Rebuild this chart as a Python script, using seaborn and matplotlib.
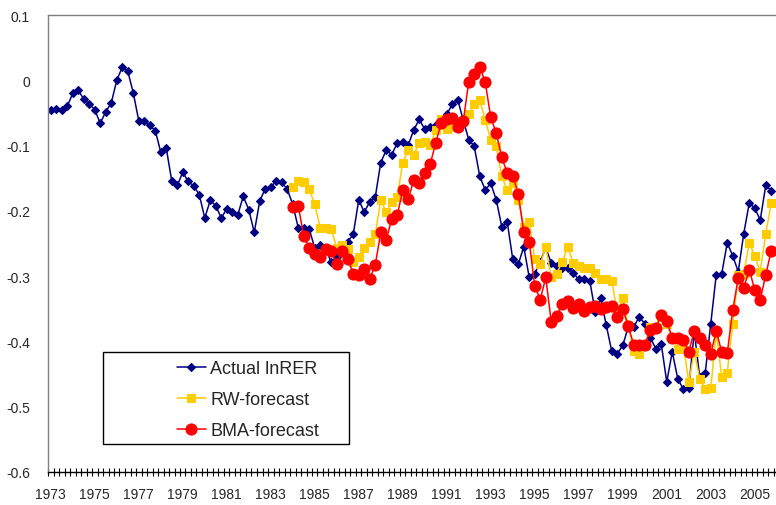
import matplotlib
matplotlib.use("Agg")
import matplotlib.pyplot as plt
from matplotlib.patches import Rectangle
import seaborn as sns
import numpy as np
import pandas as pd

# quarterly categories 1973Q1 ...
years = list(range(1973, 2006, 2))          # tick labels every 8 quarters
n_quarters = 132
forecast_start = 44                          # 1984Q1

actual = [
    -0.045, -0.044, -0.045, -0.040, -0.020, -0.015, -0.029, -0.036,
    -0.045, -0.066, -0.048, -0.035, 0.000, 0.020, 0.014, -0.019,
    -0.062, -0.063, -0.069, -0.077, -0.110, -0.104, -0.154, -0.161,
    -0.141, -0.155, -0.162, -0.175, -0.211, -0.184, -0.192, -0.211,
    -0.197, -0.202, -0.206, -0.178, -0.198, -0.233, -0.185, -0.166,
    -0.163, -0.155, -0.156, -0.167, -0.190, -0.226, -0.226, -0.228,
    -0.257, -0.252, -0.258, -0.279, -0.270, -0.257, -0.247, -0.236,
    -0.183, -0.202, -0.186, -0.179, -0.126, -0.107, -0.114, -0.096,
    -0.095, -0.099, -0.076, -0.060, -0.075, -0.072, -0.068, -0.062,
    -0.052, -0.037, -0.030, -0.061, -0.091, -0.101, -0.147, -0.168,
    -0.158, -0.183, -0.224, -0.217, -0.274, -0.282, -0.255, -0.302,
    -0.296, -0.278, -0.256, -0.280, -0.284, -0.288, -0.288, -0.295,
    -0.305, -0.305, -0.307, -0.355, -0.334, -0.375, -0.415, -0.419,
    -0.406, -0.378, -0.378, -0.362, -0.373, -0.394, -0.411, -0.404,
    -0.462, -0.416, -0.457, -0.473, -0.472, -0.385, -0.455, -0.448,
    -0.373, -0.298, -0.296, -0.249, -0.269, -0.293, -0.235, -0.188,
    -0.196, -0.214, -0.161, -0.169,
]

rw_forecast = [
    -0.163, -0.155, -0.156, -0.167, -0.190, -0.226, -0.226, -0.228,
    -0.257, -0.252, -0.258, -0.279, -0.270, -0.257, -0.247, -0.236,
    -0.183, -0.202, -0.186, -0.179, -0.126, -0.107, -0.114, -0.096,
    -0.095, -0.099, -0.076, -0.060, -0.075, -0.072, -0.068, -0.062,
    -0.052, -0.037, -0.030, -0.061, -0.091, -0.101, -0.147, -0.168,
    -0.158, -0.183, -0.224, -0.217, -0.274, -0.282, -0.255, -0.302,
    -0.296, -0.278, -0.256, -0.280, -0.284, -0.288, -0.288, -0.295,
    -0.305, -0.305, -0.307, -0.355, -0.334, -0.375, -0.415, -0.419,
    -0.406, -0.378, -0.378, -0.362, -0.373, -0.394, -0.411, -0.404,
    -0.462, -0.416, -0.457, -0.473, -0.472, -0.385, -0.455, -0.448,
    -0.373, -0.298, -0.296, -0.249, -0.269, -0.293, -0.235, -0.188,
]

bma_forecast = [
    -0.194, -0.192, -0.239, -0.257, -0.266, -0.271, -0.259, -0.262,
    -0.282, -0.262, -0.273, -0.296, -0.298, -0.289, -0.304, -0.283,
    -0.233, -0.245, -0.212, -0.207, -0.168, -0.182, -0.153, -0.158,
    -0.142, -0.128, -0.096, -0.065, -0.059, -0.058, -0.072, -0.063,
    -0.002, 0.009, 0.021, -0.003, -0.057, -0.081, -0.118, -0.142,
    -0.146, -0.174, -0.232, -0.247, -0.315, -0.336, -0.302, -0.370,
    -0.361, -0.343, -0.338, -0.349, -0.343, -0.353, -0.348, -0.346,
    -0.351, -0.347, -0.346, -0.363, -0.350, -0.377, -0.405, -0.405,
    -0.406, -0.383, -0.379, -0.360, -0.368, -0.395, -0.395, -0.398,
    -0.416, -0.384, -0.395, -0.406, -0.419, -0.384, -0.416, -0.418,
    -0.352, -0.303, -0.318, -0.290, -0.321, -0.336, -0.298, -0.261,
]

series_names = ["Actual lnRER", "RW-forecast", "BMA-forecast"]
colors = ["#000080", "#FFCC00", "#FF0000"]

sns.set_theme(style="white")
plt.rcParams["font.family"] = ["Liberation Sans", "DejaVu Sans"]

df_act = pd.DataFrame({"q": np.arange(len(actual)), "v": actual})
df_rw = pd.DataFrame({"q": np.arange(forecast_start, forecast_start + len(rw_forecast)), "v": rw_forecast})
df_bma = pd.DataFrame({"q": np.arange(forecast_start, forecast_start + len(bma_forecast)), "v": bma_forecast})

W, H = 776, 506
fig = plt.figure(figsize=(W / 100, H / 100), dpi=100)
ax = fig.add_axes([48 / W, 1 - 473 / H, 1 - 48 / W, (473 - 16) / H])

sns.lineplot(data=df_act, x="q", y="v", ax=ax, color=colors[0], marker="D",
             markersize=4.0, markeredgecolor=colors[0], markeredgewidth=0.8,
             linewidth=1.1, label=series_names[0], zorder=2)
sns.lineplot(data=df_rw, x="q", y="v", ax=ax, color=colors[1], marker="s",
             markersize=5.5, markeredgecolor=colors[1], linewidth=1.1,
             label=series_names[1], zorder=3)
sns.lineplot(data=df_bma, x="q", y="v", ax=ax, color=colors[2], marker="o",
             markersize=8, markeredgecolor=colors[2], linewidth=1.1,
             label=series_names[2], zorder=4)

ax.set_xlim(-0.5, (W - 48) / 5.5 - 0.5)
ax.set_ylim(-0.6, 0.1)
ax.set_xlabel("")
ax.set_ylabel("")

# y axis
yt = np.round(np.arange(-0.6, 0.101, 0.1), 1)
ax.set_yticks(yt)
ax.set_yticklabels(["0" if v == 0 else f"{v:.1f}" for v in yt], fontsize=10)
ax.tick_params(axis="y", length=0, pad=13)

# x axis: labels every 8 quarters, cross ticks at category boundaries
ax.set_xticks([8 * k for k in range(len(years))])
ax.set_xticklabels([str(y) for y in years], fontsize=10)
ax.set_xticks(np.arange(-0.5, n_quarters + 0.5, 1), minor=True)
ax.tick_params(axis="x", which="major", length=0, pad=11)
ax.tick_params(axis="x", which="minor", bottom=True, length=6,
               direction="inout", width=0.8, color="black")

for s in ["top", "left"]:
    ax.spines[s].set_color("#808080")
    ax.spines[s].set_linewidth(1.0)
ax.spines["right"].set_visible(False)
ax.spines["bottom"].set_color("black")
ax.spines["bottom"].set_linewidth(1.0)
ax.grid(False)

# legend
handles, labels = ax.get_legend_handles_labels()
ax.legend_.remove()
fig.patches.append(Rectangle((103 / W, 1 - 445 / H), (349 - 103) / W, (445 - 353) / H,
                             transform=fig.transFigure, fill=True, facecolor="white",
                             edgecolor="black", linewidth=1.0, zorder=5))
leg = fig.legend(handles, labels, loc="upper left",
                 bbox_to_anchor=(177 / W, 1 - 361 / H), frameon=False,
                 fontsize=13, handlelength=1.6, handletextpad=0.25,
                 labelspacing=0.78, borderpad=0.0, borderaxespad=0.0)
leg.set_zorder(6)

fig.savefig("out.png", dpi=100)
